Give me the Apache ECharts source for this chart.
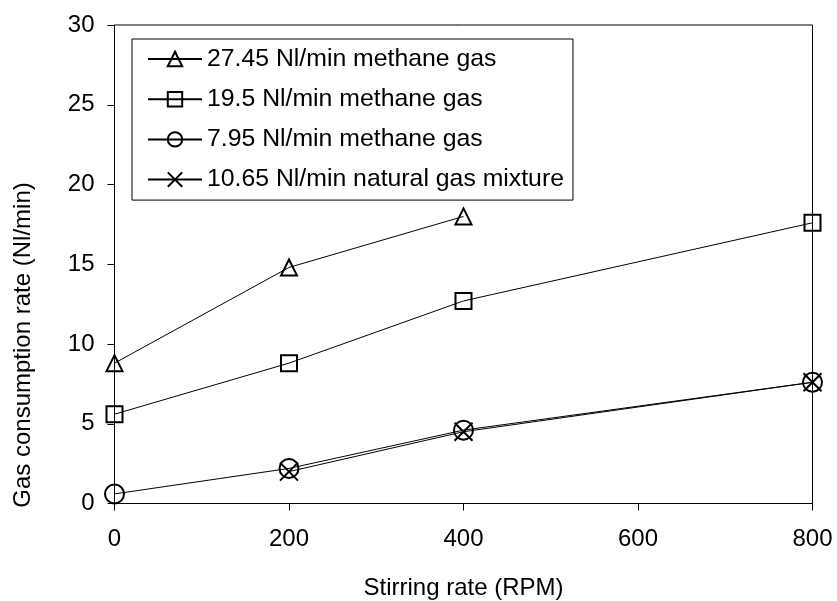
<!DOCTYPE html>
<html>
<head>
<meta charset="utf-8">
<script src="https://cdn.jsdelivr.net/npm/echarts@6/dist/echarts.min.js"></script>
<style>
  html, body { margin: 0; padding: 0; background: #fff; }
  #chart { width: 837px; height: 601px; }
</style>
</head>
<body>
<div id="chart"></div>
<script>
// Stirring rate values (RPM) shared by all runs
const rpm = [0, 200, 400, 800];

// Gas consumption rate (Nl/min) for each feed condition; null = not measured
const methane2745 = [8.8, 14.8, 18.0, null];
const methane195 = [5.6, 8.8, 12.7, 17.6];
const methane795 = [0.6, 2.2, 4.6, 7.6];
const naturalGas1065 = [null, 2.0, 4.5, 7.6];

const seriesNames = [
  '27.45 Nl/min methane gas',
  '19.5 Nl/min methane gas',
  '7.95 Nl/min methane gas',
  '10.65 Nl/min natural gas mixture'
];

const xTicks = { min: 0, max: 800, interval: 200 };
const yTicks = { min: 0, max: 30, interval: 5 };

const FONT = 'Liberation Sans, Arial, sans-serif';

function pairs(values) {
  const out = [];
  values.forEach(function (v, i) {
    if (v !== null) out.push([rpm[i], v]);
  });
  return out;
}

function lineSeries(name, values, symbol, size) {
  return {
    type: 'line',
    name: name,
    data: pairs(values),
    symbol: symbol,
    symbolSize: size,
    showAllSymbol: true,
    lineStyle: { color: '#000', width: 1 },
    itemStyle: { color: 'transparent', borderColor: '#000', borderWidth: 2 },
    emphasis: { disabled: true },
    animation: false,
    z: 3
  };
}

const chart = echarts.init(document.getElementById('chart'), null, { renderer: 'canvas' });

chart.setOption({
  backgroundColor: '#fff',
  animation: false,
  grid: {
    left: 114.5,
    right: 24.5,
    top: 25,
    bottom: 97.5,
    outerBoundsMode: 'none',
    containLabel: false,
    show: true,
    borderColor: '#000',
    borderWidth: 1,
    backgroundColor: 'transparent'
  },
  legend: {
    orient: 'vertical',
    left: 132,
    top: 39,
    padding: [7.5, 9, 8, 15],
    itemWidth: 54,
    itemHeight: 18,
    itemGap: 15.2,
    borderColor: '#000',
    borderWidth: 1,
    backgroundColor: '#fff',
    textStyle: { fontFamily: FONT, fontSize: 24.8, color: '#000' },
    data: seriesNames
  },
  xAxis: {
    type: 'value',
    min: xTicks.min,
    max: xTicks.max,
    interval: xTicks.interval,
    name: 'Stirring rate (RPM)',
    nameLocation: 'middle',
    nameGap: 73,
    nameTextStyle: { fontFamily: FONT, fontSize: 24, color: '#000' },
    axisLine: { show: true, lineStyle: { color: '#000', width: 1 } },
    axisTick: { show: true, inside: false, length: 7, lineStyle: { color: '#000' } },
    axisLabel: { fontFamily: FONT, fontSize: 24, color: '#000', margin: 24 },
    splitLine: { show: false }
  },
  yAxis: {
    type: 'value',
    min: yTicks.min,
    max: yTicks.max,
    interval: yTicks.interval,
    axisLine: { show: true, lineStyle: { color: '#000', width: 1 } },
    axisTick: { show: true, inside: false, length: 7, lineStyle: { color: '#000' } },
    axisLabel: { fontFamily: FONT, fontSize: 24, color: '#000', margin: 20 },
    splitLine: { show: false }
  },
  graphic: [{
    type: 'text',
    x: 23,
    y: 345,
    rotation: Math.PI / 2,
    style: {
      text: 'Gas consumption rate (Nl/min)',
      font: '24px ' + FONT,
      fill: '#000',
      textAlign: 'center',
      textVerticalAlign: 'middle'
    }
  }],
  series: [
    lineSeries(seriesNames[0], methane2745, 'triangle', 16),
    lineSeries(seriesNames[1], methane195, 'rect', 16),
    lineSeries(seriesNames[2], methane795, 'circle', 19),
    lineSeries(seriesNames[3], naturalGas1065, 'path://M0,0L10,10M10,0L0,10', 18)
  ]
});
</script>
</body>
</html>
